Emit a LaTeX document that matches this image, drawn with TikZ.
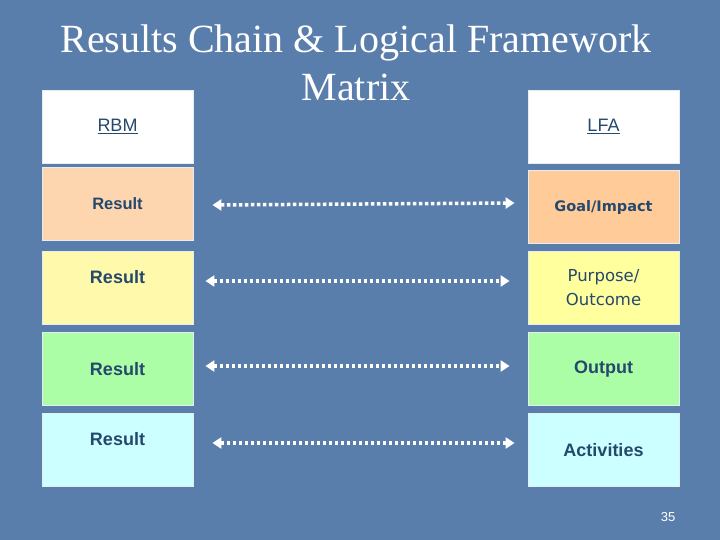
\documentclass[tikz,border=0pt]{standalone}
\usepackage{fontspec}
\setmainfont{Liberation Serif}
\newfontfamily\arialfont{Liberation Sans}
\newfontfamily\tahomafont{DejaVu Sans}
\usetikzlibrary{arrows.meta,positioning}
\definecolor{slidebg}{HTML}{5A7EAB}
\definecolor{boxtext}{HTML}{26486C}
\definecolor{peachA}{HTML}{FDD5AF}
\definecolor{peachB}{HTML}{FFCC99}
\definecolor{yellowA}{HTML}{FFF9AC}
\definecolor{yellowB}{HTML}{FFFF9E}
\definecolor{greenbox}{HTML}{ABFDA6}
\definecolor{cyanbox}{HTML}{CCFFFF}
\tikzset{
  box/.style={draw=white!85!slidebg, line width=0.8pt, minimum width=151pt, minimum height=73pt,
    inner sep=0pt, text=boxtext, font=\arialfont\bfseries\fontsize{18}{21}\selectfont, align=center},
  headbox/.style={box, fill=white, font=\arialfont\fontsize{18}{21}\selectfont},
  topalign/.style={text height=13pt, text depth=22pt},
  link/.style={white, line width=3.5pt, dash pattern=on 3.5pt off 2.5pt,
    {Triangle[width=11pt,length=9pt]}-{Triangle[width=11pt,length=9pt]}}
}
\begin{document}
\begin{tikzpicture}[x=1pt, y=-1pt]
\fill[slidebg] (0,0) rectangle (720,540);
\useasboundingbox (0,0) rectangle (720,540);
% title
\node[text=white, font=\fontsize{40}{48}\selectfont, align=center] (title) at (356,63)
  {Results Chain \& Logical Framework\\Matrix};
% RBM column
\node[headbox] (rbm) at (117.5,126.5) {\underline{RBM}};
\node[box, fill=peachA, font=\arialfont\bfseries\fontsize{16.5}{20}\selectfont] (res1) at (117.5,204) {Result};
\node[box, fill=yellowA, topalign] (res2) at (117.5,288) {Result};
\node[box, fill=greenbox] (res3) at (117.5,369) {Result};
\node[box, fill=cyanbox, topalign] (res4) at (117.5,450) {Result};
% LFA column
\node[headbox] (lfa) at (603.5,126.5) {\underline{LFA}};
\node[box, fill=peachB, font=\tahomafont\bfseries\fontsize{14.5}{18}\selectfont] (goal) at (603.5,207) {Goal/Impact};
\node[box, fill=yellowB, font=\tahomafont\fontsize{16.5}{24}\selectfont] (purpose) at (603.5,288) {Purpose/\\Outcome};
\node[box, fill=greenbox] (output) at (603.5,369) {Output};
\node[box, fill=cyanbox] (activ) at (603.5,450) {Activities};
% links
\draw[link] ([xshift=19pt,yshift=-1pt]res1.east) -- ([xshift=-13pt,yshift=4pt]goal.west);
\draw[link] ([xshift=12pt,yshift=7pt]res2.east) -- ([xshift=-18pt,yshift=7pt]purpose.west);
\draw[link] ([xshift=12pt,yshift=3pt]res3.east) -- ([xshift=-18pt,yshift=3pt]output.west);
\draw[link] ([xshift=19pt,yshift=7pt]res4.east) -- ([xshift=-13pt,yshift=7pt]activ.west);
% page number
\node[text=white, font=\arialfont\fontsize{13}{15}\selectfont] (pgno) at (668,517) {35};
\end{tikzpicture}
\end{document}
